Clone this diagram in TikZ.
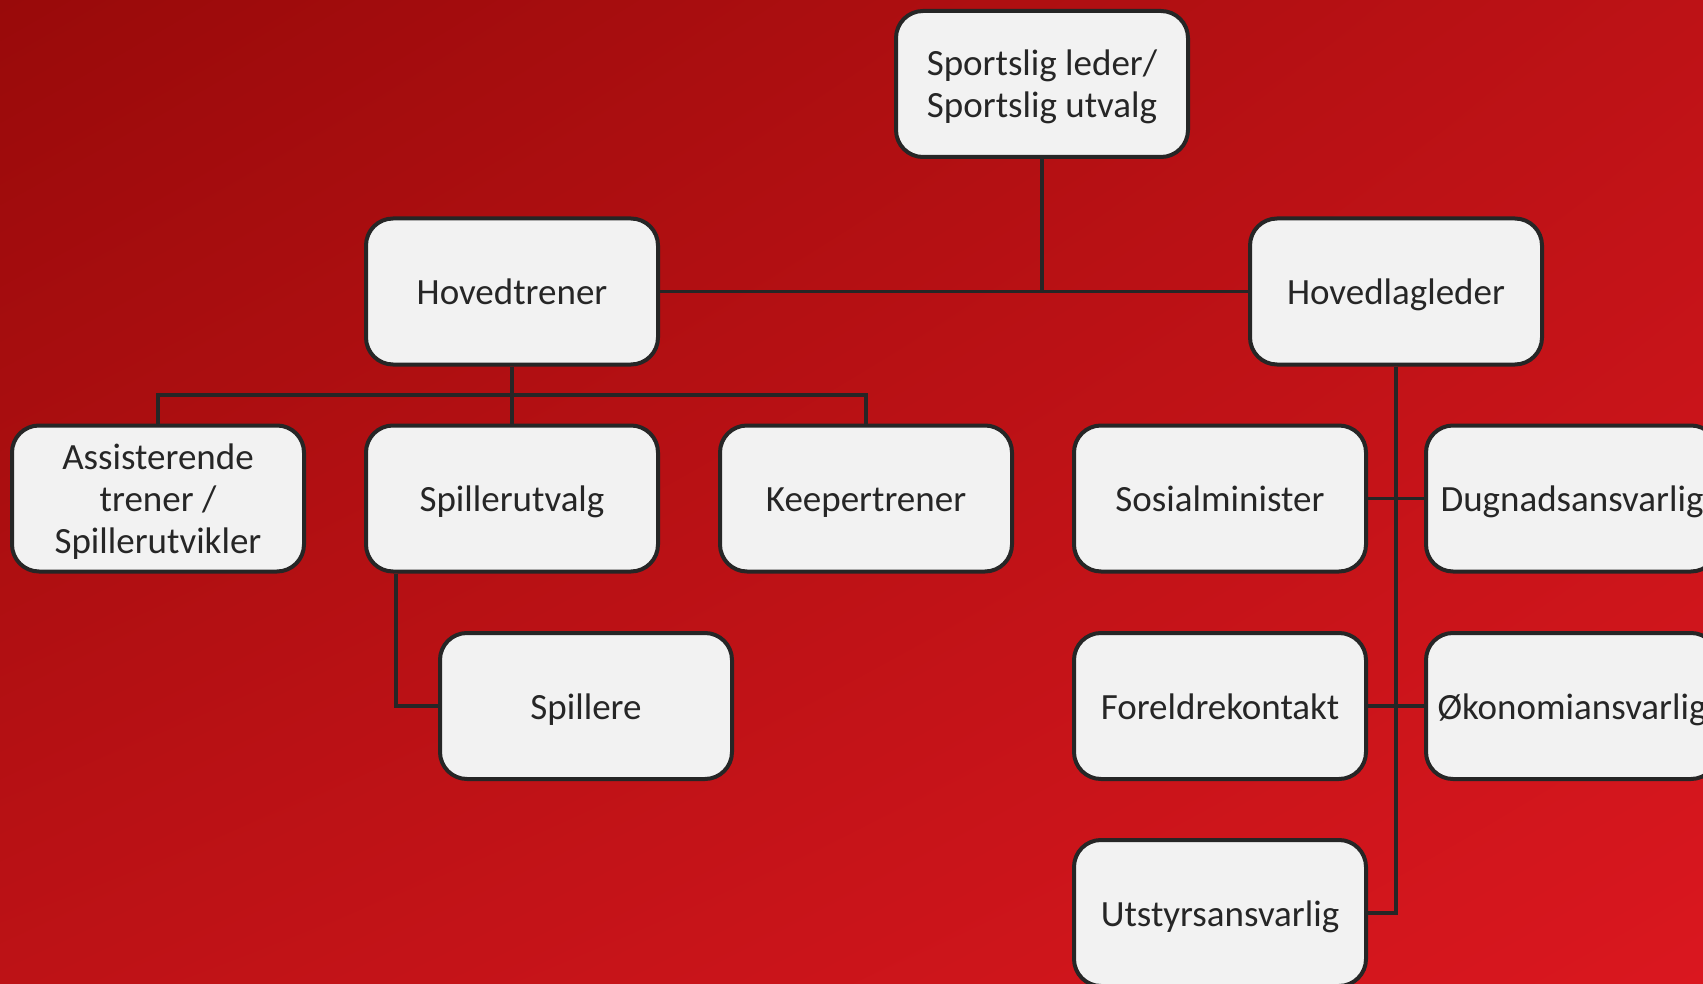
\documentclass[tikz,border=0pt]{standalone}
\usepackage{fontspec}
\setmainfont{Carlito}
\usetikzlibrary{shadings}
\definecolor{bgA}{HTML}{990A0A}
\definecolor{bgB}{HTML}{BD1216}
\definecolor{bgC}{HTML}{DA171F}
\definecolor{ink}{HTML}{262626}
\definecolor{boxfill}{HTML}{F2F2F2}
\begin{document}
\begin{tikzpicture}[x=1pt,y=-1pt,
  orgbox/.style={draw=ink, fill=boxfill, line width=4pt, rounded corners=27pt,
    minimum width=292pt, minimum height=146pt, inner sep=0pt, align=center,
    text=ink, font=\fontsize{37}{42}\selectfont},
  oneline/.style={text height=26.5pt, text depth=0pt},
  multiline/.style={yshift=-3pt},
  link/.style={draw=ink, line width=3.5pt}]
\useasboundingbox (0,0) rectangle (1703,984);
\clip (0,0) rectangle (1703,984);
\shade[upper left=bgA, upper right=bgB, lower left=bgB, lower right=bgC] (0,0) rectangle (1703,984);

\node[orgbox] (top) at (1042,84) {};
\node[orgbox, draw=none, fill=none, multiline] at (top.center) {Sportslig leder/\\Sportslig utvalg};
\node[orgbox, oneline] (ht) at (512,291.5) {Hovedtrener};
\node[orgbox, oneline] (hl) at (1396,291.5) {Hovedlagleder};
\node[orgbox] (as) at (158,498.5) {};
\node[orgbox, draw=none, fill=none, multiline] at (as.center) {Assisterende\\trener /\\Spillerutvikler};
\node[orgbox, oneline] (su) at (512,498.5) {Spillerutvalg};
\node[orgbox, oneline] (kt) at (866,498.5) {Keepertrener};
\node[orgbox, oneline] (so) at (1220,498.5) {Sosialminister};
\node[orgbox, oneline] (du) at (1572,498.5) {Dugnadsansvarlig};
\node[orgbox, oneline] (sp) at (586,706) {Spillere};
\node[orgbox, oneline] (fo) at (1220,706) {Foreldrekontakt};
\node[orgbox, oneline] (ok) at (1572,706) {Økonomiansvarlig};
\node[orgbox, oneline] (ut) at (1220,913) {Utstyrsansvarlig};

\coordinate (bus1) at (512,395);

\draw[link] (top.south) -- (top.south |- ht.east);
\draw[link] (ht.east) -- (hl.west);
\draw[link] (ht.south) -- (su.north);
\draw[link] (as.north) -- (as.north |- bus1) -- (kt.north |- bus1) -- (kt.north);
\draw[link] ([xshift=-116pt]su.south) |- (sp.west);
\draw[link] (hl.south) |- (ut.east);
\draw[link] (so.east) -- (du.west);
\draw[link] (fo.east) -- (ok.west);
\end{tikzpicture}
\end{document}
